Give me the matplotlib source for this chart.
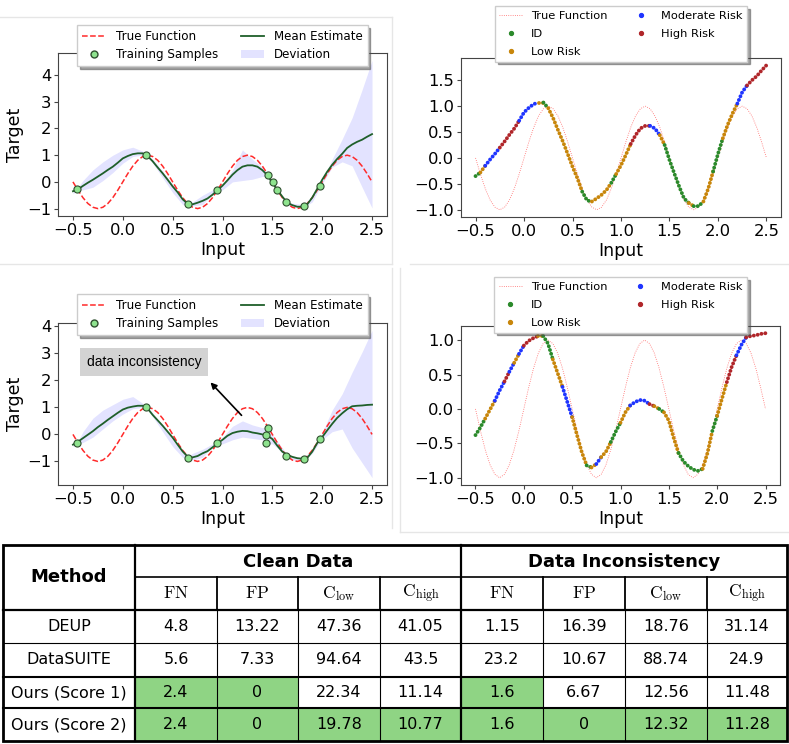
import numpy as np
import matplotlib
matplotlib.use("Agg")
import matplotlib.pyplot as plt
from matplotlib.lines import Line2D
from matplotlib.patches import Patch, Rectangle

plt.rcParams["mathtext.fontset"] = "cm"

W, H = 789, 744

# ---- data ----
# input grid (step 0.05) for the estimates and the true function
x_grid = np.round(np.arange(61) * 0.05 - 0.5, 2)

true_fn = [0, -0.31, -0.59, -0.81, -0.95, -1, -0.95, -0.81, -0.59, -0.31,
           0, 0.31, 0.59, 0.81, 0.95, 1, 0.95, 0.81, 0.59, 0.31,
           0, -0.31, -0.59, -0.81, -0.95, -1, -0.95, -0.81, -0.59, -0.31,
           0, 0.31, 0.59, 0.81, 0.95, 1, 0.95, 0.81, 0.59, 0.31,
           0, -0.31, -0.59, -0.81, -0.95, -1, -0.95, -0.81, -0.59, -0.31,
           0, 0.31, 0.59, 0.81, 0.95, 1, 0.95, 0.81, 0.59, 0.31, 0]

mean_clean = [-0.35, -0.28, -0.15, -0.03, 0.08, 0.20, 0.32, 0.45, 0.57, 0.72,
              0.88, 0.97, 1.04, 1.07, 1.07, 0.96, 0.77, 0.54, 0.32, 0.08,
              -0.17, -0.39, -0.65, -0.82, -0.84, -0.78, -0.71, -0.62, -0.48, -0.31,
              -0.14, 0.06, 0.27, 0.44, 0.57, 0.62, 0.62, 0.57, 0.44, 0.25,
              -0.04, -0.30, -0.55, -0.78, -0.87, -0.93, -0.93, -0.84, -0.59, -0.26,
              0.08, 0.38, 0.64, 0.86, 1.05, 1.27, 1.40, 1.50, 1.58, 1.69, 1.79]

mean_incons = [-0.38, -0.27, -0.14, -0.01, 0.12, 0.27, 0.40, 0.54, 0.67, 0.80,
               0.92, 0.99, 1.03, 1.06, 1.06, 0.95, 0.72, 0.52, 0.32, 0.10,
               -0.12, -0.38, -0.63, -0.82, -0.85, -0.80, -0.70, -0.62, -0.48, -0.33,
               -0.20, -0.05, 0.05, 0.10, 0.13, 0.12, 0.07, 0.04, 0.00, -0.05,
               -0.17, -0.42, -0.64, -0.76, -0.83, -0.88, -0.90, -0.87, -0.64, -0.32,
               -0.10, 0.15, 0.39, 0.61, 0.78, 0.93, 1.04, 1.06, 1.07, 1.09, 1.10]

# deviation band
band_x = [-0.5, -0.45, -0.4, -0.3, -0.2, -0.1, 0.0, 0.1, 0.2, 0.25, 0.3, 0.4,
          0.5, 0.6, 0.66, 0.7, 0.8, 0.9, 0.95, 1.0, 1.1, 1.2, 1.3, 1.4, 1.46,
          1.5, 1.55, 1.64, 1.7, 1.82, 1.9, 1.98, 2.1, 2.2, 2.3, 2.4, 2.5]
upper_clean = [-0.2, -0.2, 0.05, 0.45, 0.75, 1.0, 1.2, 1.3, 1.15, 1.0, 0.85, 0.4,
               -0.1, -0.6, -0.8, -0.75, -0.5, -0.3, -0.3, -0.1, 0.45, 1.2, 0.85, 0.55, 0.27,
               0.0, -0.28, -0.74, -0.8, -0.85, -0.5, -0.1, 0.85, 1.6, 2.4, 3.45, 4.55]
lower_clean = [-0.45, -0.3, -0.3, -0.2, 0.05, 0.35, 0.7, 0.95, 1.0, 0.95, 0.7, 0.15,
               -0.4, -0.85, -0.88, -0.9, -0.85, -0.45, -0.35, -0.3, 0.0, 0.05, 0.1, 0.2, 0.22,
               -0.06, -0.32, -0.8, -0.95, -0.95, -0.75, -0.2, 0.55, 0.75, 0.6, -0.2, -0.98]
upper_incons = [-0.3, -0.25, 0.1, 0.6, 0.9, 1.1, 1.3, 1.4, 1.15, 1.0, 0.8, 0.3,
                -0.2, -0.7, -0.8, -0.7, -0.55, -0.35, -0.3, -0.1, 0.3, 0.5, 0.35, 0.25, 0.27,
                0.0, -0.25, -0.7, -0.85, -0.85, -0.55, -0.1, 0.9, 1.5, 2.3, 3.05, 3.85]
lower_incons = [-0.45, -0.35, -0.3, -0.1, 0.2, 0.5, 0.75, 0.95, 1.0, 0.95, 0.65, 0.1,
                -0.45, -0.85, -0.9, -0.95, -0.85, -0.45, -0.38, -0.35, -0.2, -0.1, -0.15, -0.2, -0.35,
                -0.35, -0.5, -0.85, -0.95, -0.95, -0.7, -0.25, 0.1, 0.2, -0.5, -1.05, -1.6]

# training samples
samp_x_clean = [-0.455, 0.23, 0.655, 0.94, 1.46, 1.51, 1.55, 1.64, 1.82, 1.98]
samp_y_clean = [-0.27, 1.0, -0.82, -0.32, 0.26, -0.02, -0.29, -0.76, -0.89, -0.15]
samp_x_incons = [-0.455, 0.23, 0.655, 0.94, 1.44, 1.44, 1.46, 1.64, 1.82, 1.98]
samp_y_incons = [-0.3, 1.0, -0.86, -0.33, -0.04, -0.32, 0.25, -0.79, -0.91, -0.17]

# risk class of each 0.05 interval: G=ID, O=Low, B=Moderate, R=High
risk_clean = ("GO" + "BBB" + "RRRR" + "BBBB" + "OG" + "OOOOOOO" + "GG" + "OOOO" + "G"
              + "OOO" + "RRRR" + "BB" + "O" + "GGGGG" + "O" + "GG" + "OO" + "GG"
              + "OOO" + "BB" + "RRRR")
risk_incons = ("GG" + "OO" + "BB" + "R" + "B" + "O" + "B" + "RRR" + "O" + "GG" + "OO"
               + "BB" + "OOO" + "G" + "O" + "B" + "OO" + "GG" + "OO" + "BBBB" + "R"
               + "O" + "G" + "OOO" + "GGGGG" + "OO" + "G" + "OO" + "RR" + "BB" + "RRRR")
risk_names = {"G": "ID", "O": "Low Risk", "B": "Moderate Risk", "R": "High Risk"}
risk_colors = {"G": "#2b8a2b", "O": "#c8860b", "B": "#1f35ff", "R": "#b0262a"}

# table
methods = ["DEUP", "DataSUITE", "Ours (Score 1)", "Ours (Score 2)"]
metric_names = [r"$\mathrm{FN}$", r"$\mathrm{FP}$",
                r"$\mathrm{C}_{\mathrm{low}}$", r"$\mathrm{C}_{\mathrm{high}}$"]
clean_vals = [["4.8", "13.22", "47.36", "41.05"],
              ["5.6", "7.33", "94.64", "43.5"],
              ["2.4", "0", "22.34", "11.14"],
              ["2.4", "0", "19.78", "10.77"]]
incons_vals = [["1.15", "16.39", "18.76", "31.14"],
               ["23.2", "10.67", "88.74", "24.9"],
               ["1.6", "6.67", "12.56", "11.48"],
               ["1.6", "0", "12.32", "11.28"]]
best = [[0, 0, 0, 0, 0, 0, 0, 0],
        [0, 0, 0, 0, 0, 0, 0, 0],
        [1, 1, 0, 0, 1, 0, 0, 0],
        [1, 1, 1, 1, 1, 1, 1, 1]]

# ---- figure ----
fig = plt.figure(figsize=(W / 100, H / 100), dpi=100)


def add_ax(l, t, r, b):
    return fig.add_axes([l / W, 1 - b / H, (r - l) / W, (b - t) / H])


def style(ax, yticks):
    for s in ax.spines.values():
        s.set_color("#444444")
    ax.tick_params(labelsize=11.8, color="#444444", length=3, pad=2)
    ax.set_xlabel("Input", fontsize=12.5, labelpad=2)
    ax.set_xticks([-0.5, 0.0, 0.5, 1.0, 1.5, 2.0, 2.5])
    ax.set_yticks(yticks)


def leg_kw(size, spacing):
    return dict(ncol=2, loc="upper center", fontsize=size, shadow=True, framealpha=1,
                borderpad=0.4, borderaxespad=0, columnspacing=1.9, handletextpad=0.8,
                labelspacing=spacing, fancybox=False)


def left_plot(ax, mean, lo, hi, sx, sy, anchor):
    ax.fill_between(band_x, lo, hi, color="blue", alpha=0.11, linewidth=0)
    ax.plot(x_grid, true_fn, "--", color="#ff2a2a", lw=1.1)
    ax.plot(x_grid, mean, color="#1f5f2a", lw=1.3)
    ax.scatter(sx, sy, s=26, facecolor="#8ee38e", edgecolor="#2f4f2f",
               linewidth=0.8, zorder=3)
    style(ax, [-1, 0, 1, 2, 3, 4])
    ax.set_ylabel("Target", fontsize=12.5, labelpad=2)
    handles = [Line2D([], [], ls="--", color="#ff2a2a", lw=1.1, label="True Function"),
               Line2D([], [], ls="none", marker="o", markersize=5, markerfacecolor="#8ee38e",
                      markeredgecolor="#2f4f2f", label="Training Samples"),
               Line2D([], [], color="#1f5f2a", lw=1.3, label="Mean Estimate"),
               Patch(facecolor="blue", alpha=0.11, label="Deviation")]
    ax.legend(handles=handles, bbox_to_anchor=(0.5, anchor), **leg_kw(8.6, 0.45))


def right_plot(ax, mean, risk, anchor, yticks):
    ax.plot(x_grid, true_fn, ":", color="red", lw=0.6, alpha=0.6)
    i = 0
    while i < len(risk):
        j = i
        while j + 1 < len(risk) and risk[j + 1] == risk[i]:
            j += 1
        ax.plot(x_grid[i:j + 2], mean[i:j + 2], color=risk_colors[risk[i]], lw=2.8,
                ls=(0, (0.01, 1.0)), dash_capstyle="round", solid_capstyle="round")
        i = j + 1
    style(ax, yticks)
    handles = [Line2D([], [], ls=":", color="red", lw=0.6, alpha=0.6, label="True Function")]
    for code in "GOBR":
        handles.append(Line2D([], [], ls="none", marker="o", markersize=2.8,
                              color=risk_colors[code], label=risk_names[code]))
    ax.legend(handles=handles, bbox_to_anchor=(0.5, anchor), **leg_kw(8.2, 0.72))


ax1 = add_ax(58, 53, 387, 216)
left_plot(ax1, mean_clean, lower_clean, upper_clean, samp_x_clean, samp_y_clean, 1.172)

ax2 = add_ax(461, 58, 781, 217)
right_plot(ax2, mean_clean, risk_clean, 1.327, [-1.0, -0.5, 0.0, 0.5, 1.0, 1.5])

ax3 = add_ax(58, 323, 387, 485)
left_plot(ax3, mean_incons, lower_incons, upper_incons, samp_x_incons, samp_y_incons, 1.179)
ax3.annotate("", xy=(0.86, 2.0), xytext=(1.21, 0.63),
             arrowprops=dict(arrowstyle="-|>", color="black", lw=1.2, mutation_scale=9))
ax3.text(-0.36, 2.69, "data inconsistency", ha="left", va="center", fontsize=10,
         family="Liberation Sans",
         bbox=dict(facecolor="#d3d3d3", edgecolor="none", pad=5))

ax4 = add_ax(461, 326, 780, 485)
right_plot(ax4, mean_incons, risk_incons, 1.308, [-1.0, -0.5, 0.0, 0.5, 1.0])

# ---- overlay: panel borders and table ----
ov = fig.add_axes([0, 0, 1, 1])
ov.set_xlim(0, W)
ov.set_ylim(H, 0)
ov.axis("off")

grey = "#e6e6e6"
ov.plot([0, 392], [17, 17], color=grey, lw=1)
ov.plot([392, 392], [17, 264], color=grey, lw=1)
ov.plot([0, 392], [264, 264], color=grey, lw=1)
ov.plot([410, 789], [264, 264], color=grey, lw=1)
ov.plot([392, 392], [268, 528], color=grey, lw=1)
ov.plot([400, 400], [268, 532], color=grey, lw=1)
ov.plot([400, 789], [532, 532], color=grey, lw=1)

col_x = [3, 135, 217, 298, 380, 461, 543, 625, 707, 787]
row_y = [545, 577, 610, 643, 677, 708, 741]

for r in range(4):
    for c in range(8):
        if best[r][c]:
            ov.add_patch(Rectangle((col_x[c + 1], row_y[r + 2]),
                                   col_x[c + 2] - col_x[c + 1], row_y[r + 3] - row_y[r + 2],
                                   facecolor="#8fd484", edgecolor="none"))

# grid lines
for c in [2, 3, 4, 6, 7, 8]:
    ov.plot([col_x[c]] * 2, [row_y[1], row_y[2]], color="black", lw=1.3)
    ov.plot([col_x[c]] * 2, [row_y[2], row_y[6]], color="black", lw=0.8)
for c in [1, 5]:
    ov.plot([col_x[c]] * 2, [row_y[0], row_y[6]], color="black", lw=1.6)
ov.plot([col_x[1], col_x[9]], [row_y[1]] * 2, color="black", lw=1.2)
ov.plot([col_x[0], col_x[9]], [row_y[2]] * 2, color="black", lw=1.6)
ov.plot([col_x[0], col_x[9]], [row_y[3]] * 2, color="black", lw=0.8)
ov.plot([col_x[0], col_x[9]], [row_y[4]] * 2, color="black", lw=1.5)
ov.plot([col_x[0], col_x[9]], [row_y[5]] * 2, color="black", lw=1.5)
ov.add_patch(Rectangle((col_x[0], row_y[0]), col_x[9] - col_x[0], row_y[6] - row_y[0],
                       fill=False, edgecolor="black", lw=2))

tfont = dict(ha="center", va="center", family="DejaVu Sans")
ov.text((col_x[0] + col_x[1]) / 2, (row_y[0] + row_y[2]) / 2, "Method",
        fontsize=13, fontweight="bold", **tfont)
ov.text((col_x[1] + col_x[5]) / 2, (row_y[0] + row_y[1]) / 2 + 1, "Clean Data",
        fontsize=13, fontweight="bold", **tfont)
ov.text((col_x[5] + col_x[9]) / 2, (row_y[0] + row_y[1]) / 2 + 1, "Data Inconsistency",
        fontsize=13, fontweight="bold", **tfont)
for k in range(8):
    ov.text((col_x[k + 1] + col_x[k + 2]) / 2, (row_y[1] + row_y[2]) / 2,
            metric_names[k % 4], fontsize=12.5, ha="center", va="center")
for r, name in enumerate(methods):
    yc = (row_y[r + 2] + row_y[r + 3]) / 2
    ov.text((col_x[0] + col_x[1]) / 2, yc, name, fontsize=11.5, **tfont)
    vals = clean_vals[r] + incons_vals[r]
    for c, v in enumerate(vals):
        ov.text((col_x[c + 1] + col_x[c + 2]) / 2, yc, v, fontsize=11.5, **tfont)

fig.savefig("out.png", dpi=100)
